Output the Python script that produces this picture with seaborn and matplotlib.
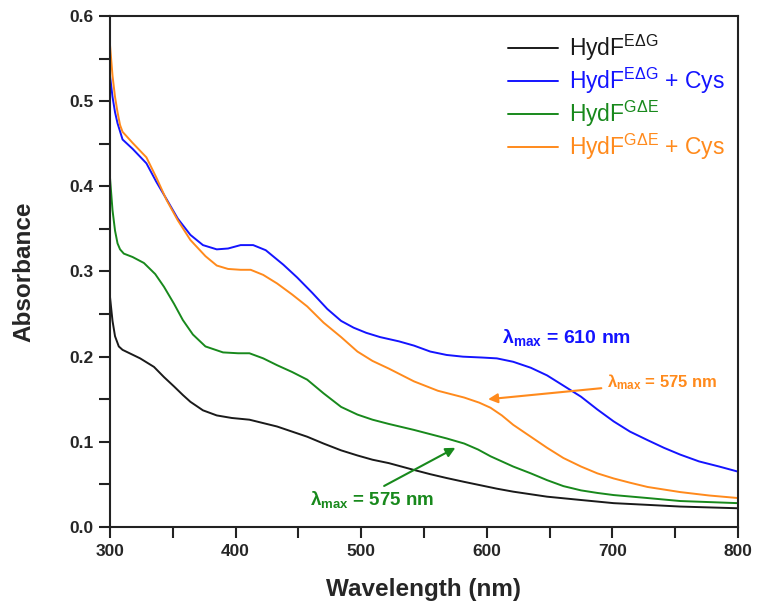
"""UV-vis absorbance spectra of HydF variants with and without cysteine"""

import pandas as pd
import seaborn as sns
import matplotlib.pyplot as plt
from matplotlib.ticker import MultipleLocator

# spectra (wavelength in nm, absorbance)
wl_eg = [300, 302, 304, 307, 310, 324, 335, 343, 351, 358, 364, 374, 385, 397, 411, 422,
         433, 445, 457, 470, 484, 497, 509, 522, 542, 555, 568, 582, 595, 608, 621, 648,
         675, 701, 728, 754, 800]
abs_eg = [0.270, 0.242, 0.224, 0.212, 0.208, 0.198, 0.188, 0.176, 0.165, 0.155, 0.147, 0.137,
          0.131, 0.128, 0.126, 0.122, 0.118, 0.112, 0.106, 0.098, 0.090, 0.084, 0.079, 0.075,
          0.067, 0.062, 0.0575, 0.053, 0.049, 0.045, 0.0415, 0.0356, 0.0317, 0.028, 0.026,
          0.024, 0.022]

wl_eg_cys = [300, 302, 304, 306, 310, 318, 329, 337, 345, 354, 364, 374, 385, 394, 404, 414,
             424, 438, 449, 461, 473, 484, 494, 504, 515, 530, 542, 555, 568, 581, 596, 608,
             621, 635, 648, 661, 675, 688, 701, 714, 728, 741, 754, 769, 785, 800]
abs_eg_cys = [0.530, 0.505, 0.487, 0.474, 0.455, 0.444, 0.427, 0.405, 0.385, 0.362, 0.343,
              0.331, 0.326, 0.327, 0.331, 0.331, 0.325, 0.308, 0.293, 0.275, 0.256, 0.242,
              0.234, 0.228, 0.223, 0.218, 0.213, 0.206, 0.202, 0.200, 0.199, 0.198, 0.194,
              0.187, 0.178, 0.166, 0.153, 0.138, 0.124, 0.112, 0.102, 0.093, 0.085, 0.077,
              0.071, 0.065]

wl_ge = [300, 302, 304, 306, 308, 311, 318, 327, 336, 343, 351, 358, 366, 376, 390, 402, 411,
         422, 433, 445, 457, 470, 484, 497, 509, 522, 542, 555, 568, 582, 593, 603, 612, 621,
         635, 648, 661, 675, 688, 701, 728, 754, 800]
abs_ge = [0.410, 0.372, 0.348, 0.333, 0.326, 0.321, 0.317, 0.310, 0.297, 0.282, 0.262, 0.243,
          0.226, 0.212, 0.205, 0.204, 0.204, 0.198, 0.190, 0.182, 0.173, 0.157, 0.141, 0.132,
          0.126, 0.121, 0.114, 0.109, 0.104, 0.098, 0.091, 0.083, 0.077, 0.071, 0.063, 0.055,
          0.048, 0.043, 0.040, 0.0375, 0.034, 0.0305, 0.028]

wl_ge_cys = [300, 302, 304, 306, 308, 310, 318, 329, 337, 345, 354, 364, 376, 385, 394, 404,
             412, 422, 433, 445, 457, 470, 484, 497, 509, 522, 542, 561, 582, 594, 603, 612,
             621, 635, 648, 661, 675, 688, 701, 714, 728, 741, 754, 777, 800]
abs_ge_cys = [0.566, 0.530, 0.505, 0.487, 0.472, 0.464, 0.451, 0.434, 0.410, 0.384, 0.360,
              0.337, 0.318, 0.307, 0.303, 0.302, 0.302, 0.296, 0.286, 0.273, 0.259, 0.240,
              0.223, 0.206, 0.195, 0.186, 0.171, 0.160, 0.152, 0.146, 0.140, 0.131, 0.120,
              0.106, 0.093, 0.081, 0.071, 0.063, 0.057, 0.052, 0.047, 0.044, 0.041, 0.037,
              0.034]

labels = ['HydF$\\mathregular{^{EΔG}}$', 'HydF$\\mathregular{^{EΔG}}$ + Cys',
          'HydF$\\mathregular{^{GΔE}}$', 'HydF$\\mathregular{^{GΔE}}$ + Cys']
colors = ['#1a1a1a', '#1414ff', '#18891c', '#ff8a1c']
lam_max = 'λ$\\mathregular{_{max}}$'

sns.set_style('ticks')
plt.rcParams['font.family'] = ['Liberation Sans', 'DejaVu Sans']
plt.rcParams['mathtext.fontset'] = 'custom'
plt.rcParams['mathtext.rm'] = 'Liberation Sans'
plt.rcParams['mathtext.bf'] = 'Liberation Sans:bold'

fig = plt.figure(figsize=(7.57, 6.07), dpi=100)
ax = fig.add_axes([110 / 757, 1 - 527 / 607, (738 - 110) / 757, (527 - 16) / 607])

series = [(wl_eg, abs_eg), (wl_eg_cys, abs_eg_cys), (wl_ge, abs_ge), (wl_ge_cys, abs_ge_cys)]
for (wl, ab), lab, col in zip(series, labels, colors):
    df = pd.DataFrame({'wl': wl, 'abs': ab})
    sns.lineplot(data=df, x='wl', y='abs', ax=ax, color=col, linewidth=1.4, label=lab)

ax.set_xlim(300, 800)
ax.set_ylim(0, 0.6)
ax.xaxis.set_major_locator(MultipleLocator(100))
ax.xaxis.set_minor_locator(MultipleLocator(50))
ax.yaxis.set_major_locator(MultipleLocator(0.1))
ax.yaxis.set_minor_locator(MultipleLocator(0.05))
ax.yaxis.set_major_formatter(plt.FormatStrFormatter('%.1f'))
ax.tick_params(which='both', direction='out', width=1.5, length=8, pad=4, color='#222222')
ax.tick_params(labelsize=12.5)
for t in ax.get_xticklabels() + ax.get_yticklabels():
    t.set_fontweight('bold')
for s in ax.spines.values():
    s.set_linewidth(1.5)
    s.set_color('#222222')

ax.set_xlabel('Wavelength (nm)', fontsize=17.5, fontweight='bold', labelpad=14)
ax.set_ylabel('Absorbance', fontsize=17.5, fontweight='bold', labelpad=24)

leg = ax.legend(loc='upper left', bbox_to_anchor=(508 / 757, 1 - 33 / 607),
                bbox_transform=fig.transFigure, frameon=False, fontsize=16.5,
                handlelength=2.2, handletextpad=0.45, labelspacing=0.12,
                borderpad=0, borderaxespad=0, labelcolor='linecolor')

# lambda max annotations
ax.text(612, 0.223, lam_max + ' = 610 nm', color=colors[1],
        fontsize=14, fontweight='bold', va='center', ha='left')
ax.annotate(lam_max + ' = 575 nm', xy=(601, 0.150), xytext=(696, 0.170),
            color=colors[3], fontsize=12, fontweight='bold', va='center', ha='left',
            arrowprops=dict(arrowstyle='-|>', color=colors[3], lw=1.5,
                            shrinkA=2, shrinkB=0, mutation_scale=14))
ax.annotate(lam_max + ' = 575 nm', xy=(575, 0.093), xytext=(459, 0.032),
            color=colors[2], fontsize=13.5, fontweight='bold', va='center', ha='left',
            arrowprops=dict(arrowstyle='-|>', color=colors[2], lw=1.5,
                            shrinkA=0, shrinkB=0, mutation_scale=14,
                            relpos=(0.55, 1.0)))

fig.savefig('out.png', dpi=100)
